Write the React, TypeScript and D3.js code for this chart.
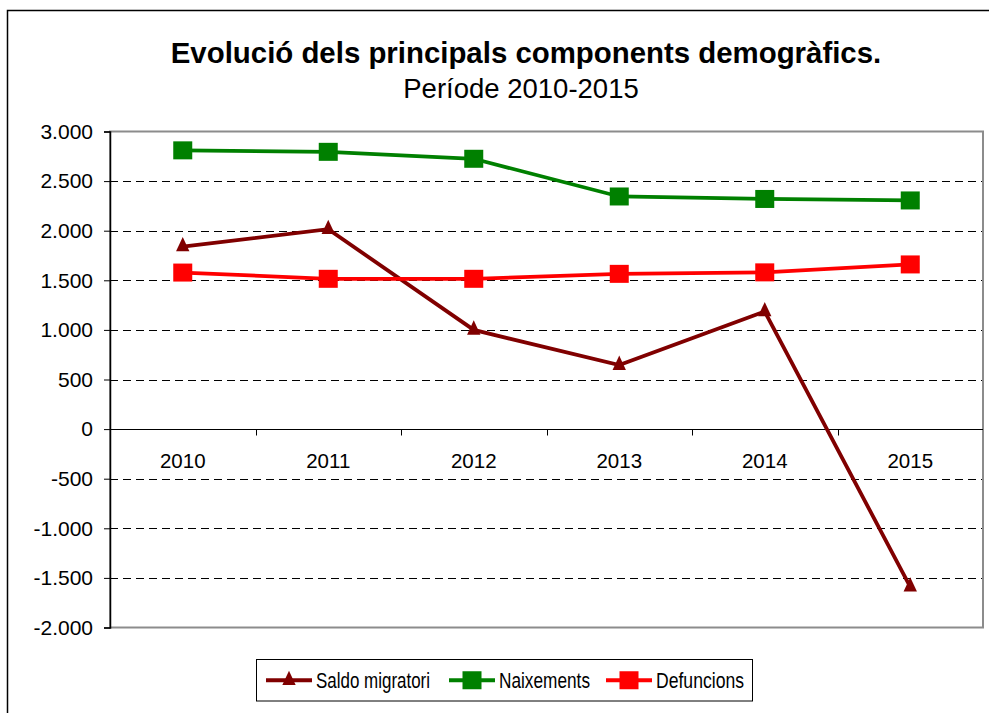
import { useEffect, useRef } from 'react';
import * as d3 from 'd3';

const years = ['2010', '2011', '2012', '2013', '2014', '2015'];
const saldoMigratori = [1840, 2015, 1000, 645, 1185, -1590];
const naixements = [2810, 2795, 2725, 2345, 2320, 2305];
const defuncions = [1578, 1515, 1515, 1565, 1580, 1660];
const yTicks = [-2000, -1500, -1000, -500, 0, 500, 1000, 1500, 2000, 2500, 3000];

const seriesNames = ['Saldo migratori', 'Naixements', 'Defuncions'];
const seriesColors = ['#800000', '#008000', '#ff0000'];
const seriesMarkers = ['triangle', 'square', 'square'];

const titleText = 'Evolució dels principals components demogràfics.';
const subtitleText = 'Període 2010-2015';

// triangle una mica més alt que equilàter, com el de l'Excel
const excelTriangle = {
  draw(context, size) {
    const h = Math.sqrt(size * 2.15);
    const w = h * 0.93;
    context.moveTo(0, -h * 2 / 3);
    context.lineTo(w / 2, h / 3);
    context.lineTo(-w / 2, h / 3);
    context.closePath();
  },
};

const App = () => {
  const svgRef = useRef(null);

  useEffect(() => {
    const W = 989;
    const H = 713;
    const plot = { left: 110, right: 983, top: 131.5, bottom: 627.5 };
    const font = "'Liberation Sans', Arial, sans-serif";

    const svg = d3.select(svgRef.current);
    svg.selectAll('*').remove();
    svg.attr('width', W).attr('height', H);

    // marco exterior
    svg
      .append('rect')
      .attr('x', 7.5)
      .attr('y', 10.5)
      .attr('width', 1100)
      .attr('height', 800)
      .attr('fill', 'white')
      .attr('stroke', '#000')
      .attr('stroke-width', 1.5);

    const cx = 526;
    svg
      .append('text')
      .attr('x', cx)
      .attr('y', 63)
      .attr('text-anchor', 'middle')
      .style('font-family', font)
      .style('font-size', '29.4px')
      .style('font-weight', 'bold')
      .text(titleText);
    svg
      .append('text')
      .attr('x', 521)
      .attr('y', 98)
      .attr('text-anchor', 'middle')
      .style('font-family', font)
      .style('font-size', '27.5px')
      .text(subtitleText);

    const x = d3.scaleBand().domain(years).range([plot.left, plot.right]).padding(0);
    const y = d3.scaleLinear().domain([-2000, 3000]).range([plot.bottom, plot.top]);
    const px = (d) => x(d) + x.bandwidth() / 2;

    const locale = d3.formatLocale({
      decimal: ',',
      thousands: '.',
      grouping: [3],
      currency: ['', ' €'],
      minus: '-',
    });
    const fmt = locale.format(',d');

    // línies de quadrícula
    svg
      .append('g')
      .selectAll('line')
      .data(yTicks.filter((t) => t !== 0 && t !== 3000 && t !== -2000))
      .join('line')
      .attr('x1', plot.left)
      .attr('x2', plot.right)
      .attr('y1', (d) => Math.round(y(d)) + 0.5)
      .attr('y2', (d) => Math.round(y(d)) + 0.5)
      .attr('stroke', '#000')
      .attr('stroke-width', 1)
      .attr('stroke-dasharray', '8,5');

    // vora de l'àrea
    svg
      .append('rect')
      .attr('x', plot.left)
      .attr('y', plot.top)
      .attr('width', plot.right - plot.left)
      .attr('height', plot.bottom - plot.top)
      .attr('fill', 'none')
      .attr('stroke', '#8c8c8c')
      .attr('stroke-width', 2);

    // eix Y
    const yAxis = svg
      .append('g')
      .attr('transform', `translate(${plot.left},0)`)
      .call(d3.axisLeft(y).tickValues(yTicks).tickFormat(fmt).tickSize(6).tickPadding(11));
    yAxis.select('.domain').attr('stroke', '#000').attr('stroke-width', 1.5);
    yAxis
      .selectAll('text')
      .style('font-family', font)
      .style('font-size', '21px')
      .attr('fill', '#000');

    // eix X a zero
    const zeroY = Math.round(y(0)) + 0.5;
    svg
      .append('line')
      .attr('x1', plot.left)
      .attr('x2', plot.right)
      .attr('y1', zeroY)
      .attr('y2', zeroY)
      .attr('stroke', '#000')
      .attr('stroke-width', 1);
    svg
      .append('g')
      .selectAll('line')
      .data(years.slice(1))
      .join('line')
      .attr('x1', (d) => Math.round(x(d)) + 0.5)
      .attr('x2', (d) => Math.round(x(d)) + 0.5)
      .attr('y1', zeroY)
      .attr('y2', zeroY + 6)
      .attr('stroke', '#000');
    svg
      .append('g')
      .selectAll('text')
      .data(years)
      .join('text')
      .attr('x', px)
      .attr('y', zeroY + 38)
      .attr('text-anchor', 'middle')
      .style('font-family', font)
      .style('font-size', '20.5px')
      .text((d) => d);

    const series = [saldoMigratori, naixements, defuncions];
    const line = d3
      .line()
      .x((d, i) => px(years[i]))
      .y((d) => y(d));
    const tri = d3.symbol(excelTriangle, 96);

    const drawMarker = (g, type, color, mx, my) => {
      if (type === 'square') {
        g.append('rect')
          .attr('x', mx - 9.5)
          .attr('y', my - 9)
          .attr('width', 19)
          .attr('height', 18)
          .attr('fill', color);
      } else {
        g.append('path')
          .attr('d', tri())
          .attr('transform', `translate(${mx},${my})`)
          .attr('fill', color);
      }
    };

    series.forEach((vals, s) => {
      const g = svg.append('g');
      g.append('path')
        .datum(vals)
        .attr('d', line)
        .attr('fill', 'none')
        .attr('stroke', seriesColors[s])
        .attr('stroke-width', 3.8);
      vals.forEach((v, i) => drawMarker(g, seriesMarkers[s], seriesColors[s], px(years[i]), y(v)));
    });

    // llegenda
    const lg = { x: 256.5, y: 659.5, w: 496, h: 41.5 };
    svg
      .append('rect')
      .attr('x', lg.x)
      .attr('y', lg.y)
      .attr('width', lg.w)
      .attr('height', lg.h)
      .attr('fill', 'white')
      .attr('stroke', '#000')
      .attr('stroke-width', 1);
    const itemX = [266, 449, 606];
    const textW = [114, 91, 88];
    const ly = lg.y + lg.h / 2;
    seriesNames.forEach((name, s) => {
      const g = svg.append('g');
      g.append('line')
        .attr('x1', itemX[s])
        .attr('x2', itemX[s] + 46)
        .attr('y1', ly)
        .attr('y2', ly)
        .attr('stroke', seriesColors[s])
        .attr('stroke-width', 3.8);
      drawMarker(g, seriesMarkers[s], seriesColors[s], itemX[s] + 23, ly);
      g.append('text')
        .attr('x', itemX[s] + 50)
        .attr('y', ly)
        .attr('dy', '0.35em')
        .attr('textLength', textW[s])
        .attr('lengthAdjust', 'spacingAndGlyphs')
        .style('font-family', font)
        .style('font-size', '22px')
        .text(name);
    });
  }, []);

  return (
    <svg
      ref={svgRef}
      style={{ position: 'absolute', left: 0, top: 0, display: 'block', background: 'white' }}
    />
  );
};

export default App;
